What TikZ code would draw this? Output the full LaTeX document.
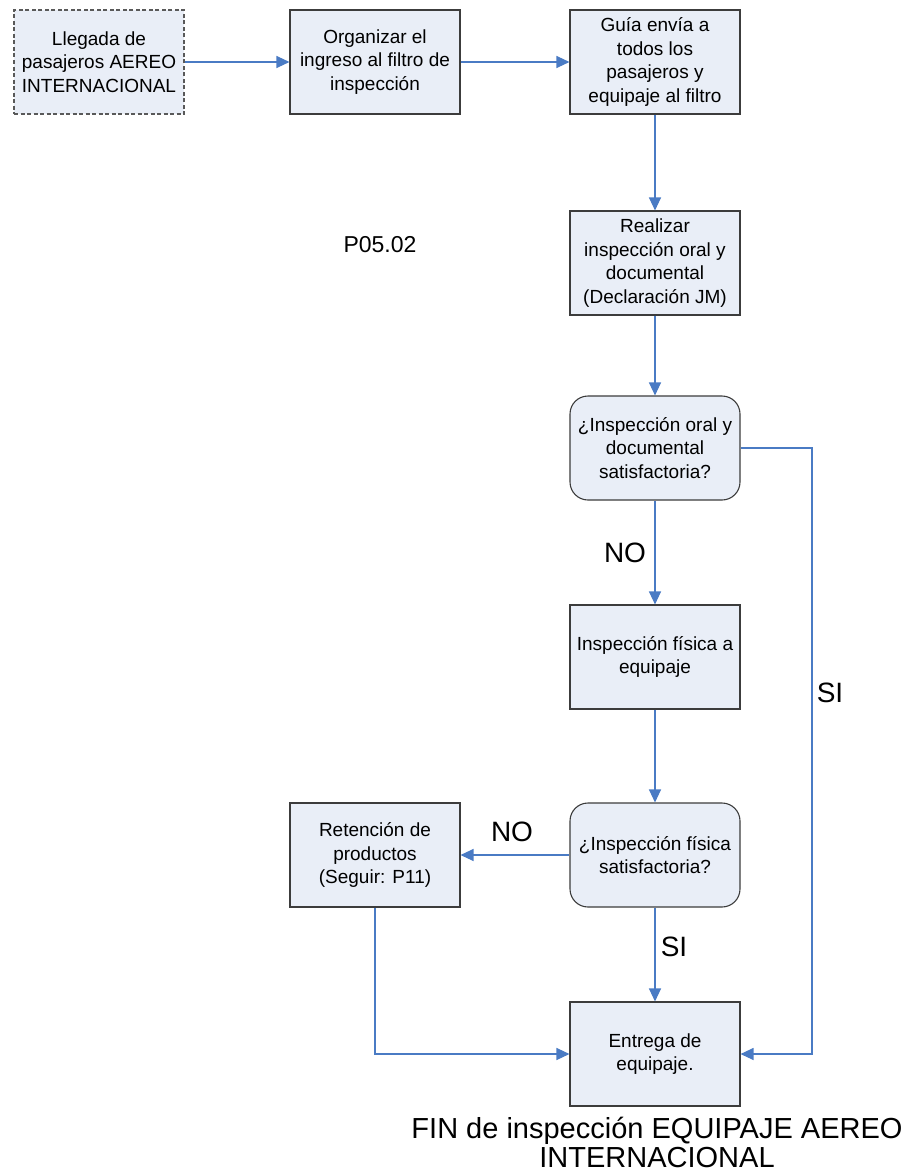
\documentclass[tikz,border=0pt]{standalone}
\usepackage{fontspec}
\setmainfont{Liberation Sans}
\usetikzlibrary{arrows.meta}
\definecolor{boxfill}{HTML}{E9EEF7}
\definecolor{boxline}{HTML}{3C3C3C}
\definecolor{linkblue}{HTML}{4A7BC4}
\begin{document}
\begin{tikzpicture}[x=1pt,y=1pt]

\tikzstyle{procbox} = [draw=boxline,fill=boxfill,line width=1.1,align=center,inner sep=2,minimum width=170,minimum height=104,font={\fontsize{19}{23.5}\selectfont}]
\tikzstyle{startbox} = [procbox,draw=black!65,dash pattern=on 4 off 2.5]
\tikzstyle{askbox} = [procbox,rounded corners=18]
\tikzstyle{flow_edge} = [-{Triangle[length=13pt,width=12pt]}, draw=linkblue, line width=1.2]
\tikzstyle{biglabel} = [font={\fontsize{28}{32}\selectfont}]

\useasboundingbox (0,0) rectangle (910,-1175);

\node [startbox] (llegada) at (99,-62) {Llegada de\\pasajeros AEREO\\INTERNACIONAL};
\node [procbox] (organizar) at (375,-62) {Organizar el\\ingreso al filtro de\\inspección};
\node [procbox] (guia) at (655,-62) {Guía envía a\\todos los\\pasajeros y\\equipaje al filtro};

\node [procbox] (realizar) at (655,-263) {Realizar\\inspección oral y\\documental\\(Declaración JM)};
\node [askbox] (askoral) at (655,-448) {¿Inspección oral y\\documental\\satisfactoria?};
\node [procbox] (fisica) at (655,-657) {Inspección física a\\equipaje};
\node [askbox] (askfisica) at (655,-855) {¿Inspección física\\satisfactoria?};
\node [procbox] (retencion) at (375,-855) {Retención de\\productos\\(Seguir: P11)};
\node [procbox] (entrega) at (655,-1054) {Entrega de\\equipaje.};

\node [font={\fontsize{23}{27}\selectfont}] (codigo) at (380,-245) {P05.02};
\node [align=center,font={\fontsize{29}{29}\selectfont}] (fin) at (657,-1142) {FIN de inspección EQUIPAJE AEREO\\INTERNACIONAL};

\node [biglabel] (no1) at (625,-553) {NO};
\node [biglabel] (si1) at (830,-693) {SI};
\node [biglabel] (no2) at (512,-832) {NO};
\node [biglabel] (si2) at (674,-947) {SI};

\coordinate (rightbend) at (812,-448);

\draw [flow_edge] (llegada) -- (organizar);
\draw [flow_edge] (organizar) -- (guia);
\draw [flow_edge] (guia) -- (realizar);
\draw [flow_edge] (realizar) -- (askoral);
\draw [flow_edge] (askoral) -- (fisica);
\draw [flow_edge] (fisica) -- (askfisica);
\draw [flow_edge] (askfisica) -- (retencion);
\draw [flow_edge] (askfisica) -- (entrega);
\draw [flow_edge] (askoral.east) -- (rightbend) |- (entrega.east);
\draw [flow_edge] (retencion.south) |- (entrega.west);
\end{tikzpicture}
\end{document}
